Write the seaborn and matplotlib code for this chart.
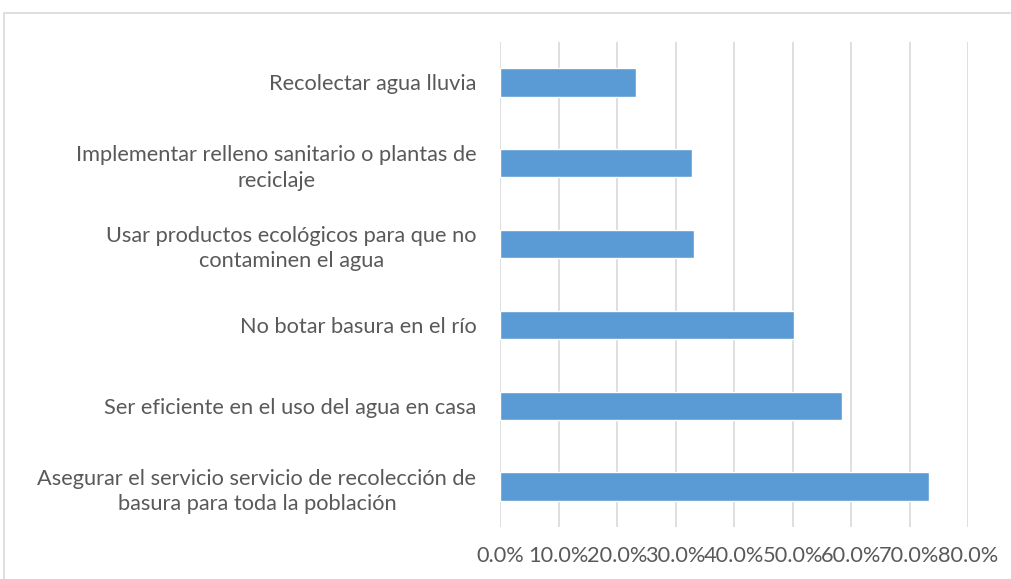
import matplotlib
matplotlib.use("Agg")
import matplotlib.pyplot as plt
import seaborn as sns
import pandas as pd
from matplotlib.ticker import PercentFormatter, MultipleLocator
from matplotlib.patches import Rectangle

categories = [
    "Recolectar agua lluvia",
    "Implementar relleno sanitario o plantas de\nreciclaje",
    "Usar productos ecológicos para que no\ncontaminen el agua",
    "No botar basura en el río",
    "Ser eficiente en el uso del agua en casa",
    "Asegurar el servicio servicio de recolección de\nbasura para toda la población",
]
values = [0.232, 0.328, 0.331, 0.502, 0.585, 0.734]

df = pd.DataFrame({"cat": categories, "val": values})

sns.set_theme(style="white")
plt.rcParams['font.family'] = ['Lato', 'DejaVu Sans']

fig = plt.figure(figsize=(10.11, 5.79), dpi=100)
ax = fig.add_axes([500/1011, 1-527/579, 468/1011, 485/579])

sns.barplot(data=df, y="cat", x="val", order=categories, orient="h",
            color="#5b9bd5", saturation=1, width=0.35, ax=ax)

ax.set_xlim(0, 0.8)
ax.xaxis.set_major_locator(MultipleLocator(0.1))
ax.xaxis.set_major_formatter(PercentFormatter(1, decimals=1))
ax.grid(axis="x", color="#d9d9d9", linewidth=1.2)
ax.set_axisbelow(True)
for s in ax.spines.values():
    s.set_visible(False)
ax.set_xlabel("")
ax.set_ylabel("")
ax.tick_params(axis="both", length=0, colors="#595959", labelsize=15.7)
ax.tick_params(axis="y", pad=17)
ax.tick_params(axis="x", pad=14)
for t in ax.get_yticklabels():
    t.set_multialignment("center")
    t.set_linespacing(1.33)

fig.patches.append(Rectangle((4/1011, -0.01), 1.1, 1-13/579+0.01, transform=fig.transFigure,
                             fill=False, edgecolor="#d9d9d9", linewidth=1.2))

fig.savefig("out.png", dpi=100, facecolor="white")
